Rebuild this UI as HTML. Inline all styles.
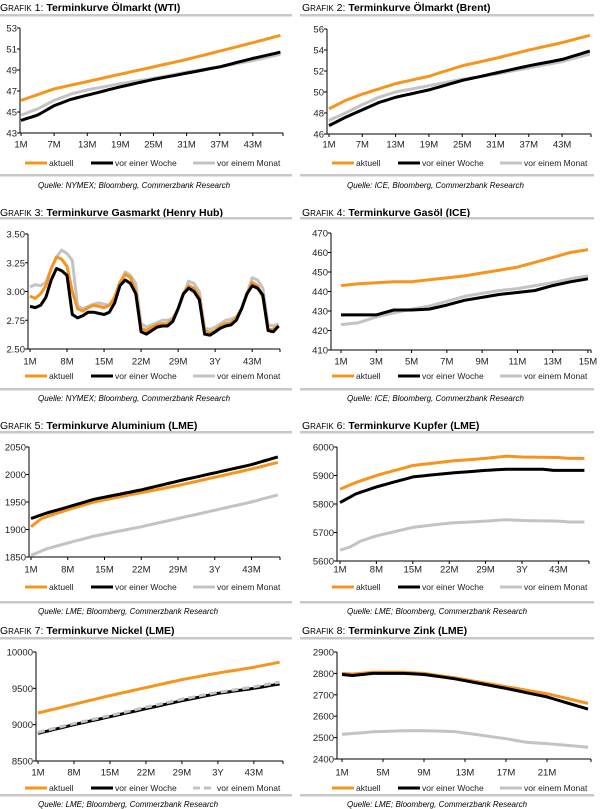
<!DOCTYPE html>
<html><head><meta charset="utf-8">
<style>
body{margin:0;background:#fff;width:600px;height:809px;overflow:hidden;font-family:"Liberation Sans",Arial,sans-serif;}
svg{position:absolute;left:0;top:0}
</style></head><body>
<svg id="s" width="600" height="809" xmlns="http://www.w3.org/2000/svg" font-family="Liberation Sans, Arial, sans-serif"></svg>
<script>
var S=document.getElementById('s'),out='';
function interp(kp,n){var a=[];for(var i=1;i<=n;i++){for(var k=0;k<kp.length-1;k++){if(i>=kp[k][0]&&i<=kp[k+1][0]){var t=(i-kp[k][0])/(kp[k+1][0]-kp[k][0]);a.push(kp[k][1]+t*(kp[k+1][1]-kp[k][1]));break;}}}return a;}
function arr(v){var a=[];for(var i=0;i<v.length;i++)a.push([i+1,v[i]]);return a;}
var ORG='#f7941d',BLK='#000',GRY='#c3c3c3';
var rows=[{t:7,ts:15,bs:175,src:185,leg:163,lab:144},{t:212,ts:218,bs:389,src:398,leg:376,lab:361},{t:425,ts:432,bs:602,src:611,leg:587,lab:569},{t:630,ts:638,bs:795,src:804,leg:788,lab:772}];
var L48=[[1,'1M'],[8,'8M'],[15,'15M'],[22,'22M'],[29,'29M'],[36,'3Y'],[43,'43M']];
var L6=[[1,'1M'],[7,'7M'],[13,'13M'],[19,'19M'],[25,'25M'],[31,'31M'],[37,'37M'],[43,'43M']];
var charts=[
{c:0,r:0,num:1,title:'Terminkurve Ölmarkt (WTI)',src:'Quelle: NYMEX; Bloomberg, Commerzbank Research',ax:20,right:283,top:28,bot:133,ymin:43,ymax:53,ticks:[43,45,47,49,51,53],dec:0,first:21,step:5.52,n:48,xl:L6,
 s:[[[1,44.7],[4,45.3],[7,46.1],[10,46.7],[13,47.1],[19,47.7],[25,48.2],[31,48.8],[37,49.3],[43,49.9],[48,50.5]],[[1,44.2],[4,44.7],[7,45.6],[10,46.2],[13,46.6],[19,47.4],[25,48.1],[31,48.7],[37,49.3],[43,50.1],[48,50.7]],[[1,46.1],[7,47.2],[13,47.9],[19,48.6],[25,49.3],[31,50],[37,50.8],[43,51.6],[48,52.3]]]},
{c:1,r:0,num:2,title:'Terminkurve Ölmarkt (Brent)',src:'Quelle: ICE, Bloomberg, Commerzbank Research',ax:327,right:591,top:29,bot:134,ymin:46,ymax:56,ticks:[46,48,50,52,54,56],dec:0,first:329,step:5.55,n:48,xl:L6,
 s:[[[1,47.3],[4,48],[7,48.8],[10,49.5],[13,50],[19,50.6],[25,51.2],[31,51.7],[37,52.3],[43,52.9],[48,53.6]],[[1,46.8],[4,47.6],[7,48.3],[10,49],[13,49.5],[19,50.2],[25,51.1],[31,51.8],[37,52.5],[43,53.1],[48,53.9]],[[1,48.4],[4,49.2],[7,49.8],[13,50.8],[19,51.5],[25,52.5],[31,53.2],[37,54],[43,54.7],[48,55.4]]]},
{c:0,r:1,num:3,title:'Terminkurve Gasmarkt (Henry Hub)',src:'Quelle: NYMEX; Bloomberg, Commerzbank Research',ax:28,right:280,top:234,bot:349,ymin:2.5,ymax:3.5,ticks:[2.5,2.75,3,3.25,3.5],dec:2,first:30,step:5.29,n:48,xl:L48,
 s:[arr([3.04,3.06,3.05,3.08,3.2,3.3,3.36,3.33,3.27,2.87,2.85,2.87,2.89,2.9,2.89,2.88,2.92,3.05,3.17,3.14,3.07,2.72,2.69,2.71,2.73,2.75,2.75,2.77,2.85,2.97,3.09,3.07,3.0,2.68,2.67,2.69,2.72,2.75,2.76,2.78,2.85,2.98,3.12,3.1,3.03,2.71,2.7,2.72]),
 arr([2.96,2.94,2.98,3.05,3.2,3.3,3.28,3.22,3.0,2.85,2.83,2.86,2.88,2.87,2.86,2.88,2.95,3.08,3.15,3.12,3.0,2.68,2.66,2.69,2.71,2.72,2.72,2.76,2.85,2.98,3.05,3.03,2.95,2.66,2.64,2.66,2.7,2.72,2.73,2.77,2.85,2.97,3.08,3.05,2.95,2.67,2.67,2.7]),
 arr([2.87,2.86,2.88,2.95,3.1,3.2,3.18,3.14,2.8,2.77,2.79,2.82,2.82,2.81,2.8,2.82,2.9,3.05,3.1,3.07,2.98,2.65,2.63,2.66,2.69,2.7,2.7,2.74,2.85,2.98,3.03,3.0,2.93,2.63,2.62,2.65,2.68,2.7,2.71,2.75,2.85,2.98,3.05,3.03,2.97,2.66,2.65,2.7])],order:[1,2,0],colors:[GRY,ORG,BLK]},
{c:1,r:1,num:4,title:'Terminkurve Gasöl (ICE)',src:'Quelle: ICE; Bloomberg, Commerzbank Research',ax:331,right:591,top:233,bot:350,ymin:410,ymax:470,ticks:[410,420,430,440,450,460,470],dec:0,first:341,step:17.64,n:15,xl:[[1,'1M'],[3,'3M'],[5,'5M'],[7,'7M'],[9,'9M'],[11,'11M'],[13,'13M'],[15,'15M']],
 s:[arr([423,424,427,429,431,432.5,435,437.5,439,440.5,441.5,443,444.5,446.5,448]),arr([428,428,428,430.5,430.5,431,433,435.5,437,438.5,439.5,440.5,443,445,446.5]),arr([443,444,444.5,445,445,446,447,448,449.5,451,452.5,455,457.5,460,461.5])]},
{c:0,r:2,num:5,title:' Terminkurve Aluminium (LME)',src:'Quelle: LME; Bloomberg, Commerzbank Research',ax:29,right:280,top:447,bot:557,ymin:1850,ymax:2050,ticks:[1850,1900,1950,2000,2050],dec:0,first:31,step:5.25,n:48,xl:L48,
 s:[[[1,1853],[4,1865],[7,1873],[13,1888],[22,1905],[29,1920],[36,1935],[43,1950],[48,1963]],[[1,1905],[3,1920],[7,1933],[13,1950],[22,1967],[29,1980],[36,1995],[43,2010],[48,2022]],[[1,1920],[4,1930],[7,1938],[13,1955],[22,1972],[29,1988],[36,2003],[43,2018],[48,2032]]],colors:[GRY,ORG,BLK]},
{c:1,r:2,num:6,title:'Terminkurve Kupfer (LME)',src:'Quelle: LME; Bloomberg, Commerzbank Research',ax:337,right:589,top:447,bot:561,ymin:5600,ymax:6000,ticks:[5600,5700,5800,5900,6000],dec:0,first:340,step:5.2,n:48,xl:L48,
 s:[[[1,5638],[3,5650],[5,5670],[8,5688],[15,5718],[22,5733],[29,5740],[33,5745],[36,5742],[43,5740],[45,5737],[48,5737]],[[1,5805],[4,5835],[8,5860],[15,5895],[22,5908],[29,5918],[33,5922],[40,5922],[42,5918],[48,5918]],[[1,5852],[4,5875],[8,5900],[15,5935],[22,5950],[29,5960],[33,5968],[36,5965],[43,5963],[45,5960],[48,5960]]]},
{c:0,r:3,num:7,title:'Terminkurve Nickel (LME)',src:'Quelle: LME; Bloomberg, Commerzbank Research',ax:36,right:283,top:652,bot:761,ymin:8500,ymax:10000,ticks:[8500,9000,9500,10000],dec:0,first:38,step:5.14,n:48,xl:L48,dash:true,
 s:[[[1,8880],[8,9000],[15,9110],[22,9220],[29,9330],[36,9430],[43,9500],[48,9560]],[[1,8895],[8,9015],[15,9125],[22,9240],[29,9350],[36,9445],[43,9520],[48,9585]],[[1,9160],[8,9280],[15,9400],[22,9510],[29,9620],[36,9710],[43,9790],[48,9860]]],order:[0,1,2],colors:[BLK,GRY,ORG]},
{c:1,r:3,num:8,title:'Terminkurve Zink (LME)',src:'Quelle: LME; Bloomberg, Commerzbank Research',ax:337,right:591,top:652,bot:759,ymin:2400,ymax:2900,ticks:[2400,2500,2600,2700,2800,2900],dec:0,first:342,step:10.25,n:25,xl:[[1,'1M'],[5,'5M'],[9,'9M'],[13,'13M'],[17,'17M'],[21,'21M']],
 s:[[[1,2515],[4,2527],[7,2532],[9,2532],[12,2528],[17,2495],[19,2478],[21,2472],[25,2455]],[[1,2800],[2,2797],[4,2805],[7,2805],[9,2800],[12,2780],[17,2738],[21,2705],[25,2660]],[[1,2795],[2,2790],[4,2800],[7,2800],[9,2795],[12,2775],[17,2730],[21,2690],[25,2633]]],colors:[GRY,ORG,BLK]}
];
charts.forEach(function(ch){
 var R=rows[ch.r],X=ch.c*300+(ch.c?2:0);
 out+='<text x="'+X+'" y="'+(R.t+4)+'" font-size="10.5"><tspan font-size="10.5">G</tspan><tspan font-size="8">RAFIK</tspan><tspan font-size="10.5"> '+ch.num+': </tspan><tspan font-weight="bold" font-size="10.5">'+ch.title+'</tspan></text>';
 out+='<rect x="'+(X-2)+'" y="'+(R.ts-1)+'" width="294" height="2.5" fill="#c8c8c8"/>';
 out+='<rect x="'+(X-2)+'" y="'+(R.bs-1)+'" width="294" height="2.5" fill="#c8c8c8"/>';
 out+='<text x="'+(X+(ch.c?45:38))+'" y="'+(R.src+3)+'" font-size="8" font-style="italic">'+ch.src+'</text>';
 function Y(v){return ch.bot-(v-ch.ymin)/(ch.ymax-ch.ymin)*(ch.bot-ch.top);}
 function Xp(i){return ch.first+(i-1)*ch.step;}
 // axes
 out+='<line x1="'+ch.ax+'" y1="'+ch.top+'" x2="'+ch.ax+'" y2="'+ch.bot+'" stroke="#000" stroke-width="1"/>';
 out+='<line x1="'+ch.ax+'" y1="'+ch.bot+'" x2="'+ch.right+'" y2="'+ch.bot+'" stroke="#000" stroke-width="1"/>';
 ch.ticks.forEach(function(t){var y=Y(t);out+='<line x1="'+(ch.ax-3)+'" y1="'+y+'" x2="'+ch.ax+'" y2="'+y+'" stroke="#000"/>';
  out+='<text x="'+(ch.ax-3)+'" y="'+(y+3.5)+'" font-size="9.5" text-anchor="end" fill="#222">'+(ch.dec?t.toFixed(ch.dec):t)+'</text>';});
 ch.xl.forEach(function(l){var x=Xp(l[0]);out+='<line x1="'+x+'" y1="'+ch.bot+'" x2="'+x+'" y2="'+(ch.bot+3)+'" stroke="#000"/>';
  out+='<text x="'+x+'" y="'+(R.lab+3.5)+'" font-size="9.5" text-anchor="middle" fill="#222">'+l[1]+'</text>';});
 out+='<line x1="'+ch.right+'" y1="'+ch.bot+'" x2="'+ch.right+'" y2="'+(ch.bot+3)+'" stroke="#000"/>';
 var cols=ch.colors||[GRY,BLK,ORG];
 ch.s.forEach(function(kp,k){var v=interp(kp,ch.n),pts=v.map(function(y,i){return Xp(i+1).toFixed(1)+','+Y(y).toFixed(1)}).join(' ');
  var d=(ch.dash&&cols[k]==GRY)?' stroke-dasharray="7,4"':'';
  out+='<polyline points="'+pts+'" fill="none" stroke="'+cols[k]+'" stroke-width="3" stroke-linejoin="round"'+d+'/>';});
 // legend
 var lx=ch.c?X+30:X+25, ly=R.leg;
 var items=[[ORG,'aktuell',0],[BLK,'vor einer Woche',66],[GRY,'vor einem Monat',168]];
 items.forEach(function(it){var x=lx+it[2];var d=(ch.dash&&it[0]==GRY)?' stroke-dasharray="7,4"':'';
  out+='<line x1="'+x+'" y1="'+ly+'" x2="'+(x+22)+'" y2="'+ly+'" stroke="'+it[0]+'" stroke-width="3"'+d+'/>';
  out+='<text x="'+(x+24)+'" y="'+(ly+3)+'" font-size="8.5" fill="#222">'+it[1]+'</text>';});
});
S.innerHTML=out;
</script>
</body></html>
